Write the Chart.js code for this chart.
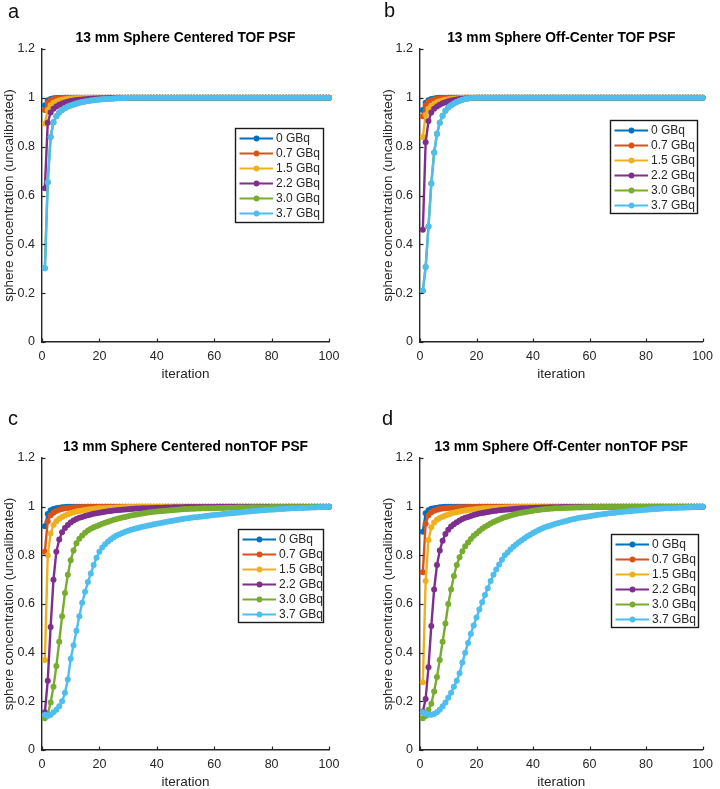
<!DOCTYPE html>
<html><head><meta charset="utf-8">
<script src="https://cdn.jsdelivr.net/npm/chart.js@4/dist/chart.umd.min.js"></script>
<style>
html,body{margin:0;padding:0;background:#fff;}
body{width:720px;height:789px;position:relative;overflow:hidden;font-family:"Liberation Sans",Arial,sans-serif;}
canvas{position:absolute;display:block;}
.lbl{position:absolute;font-size:20px;line-height:1;color:#111;font-family:"Liberation Sans",Arial,sans-serif;}
</style></head><body>
<canvas id="cA" width="360" height="390" style="left:0;top:0"></canvas>
<canvas id="cB" width="360" height="390" style="left:360px;top:0"></canvas>
<canvas id="cC" width="360" height="399" style="left:0;top:390px"></canvas>
<canvas id="cD" width="360" height="399" style="left:360px;top:390px"></canvas>
<div class="lbl" style="left:8px;top:1px">a</div>
<div class="lbl" style="left:384px;top:0px">b</div>
<div class="lbl" style="left:8px;top:408px">c</div>
<div class="lbl" style="left:382px;top:408px">d</div>
<script>
// ---------- categories / labels ----------
const seriesLabels = ['0 GBq','0.7 GBq','1.5 GBq','2.2 GBq','3.0 GBq','3.7 GBq'];
const iterations = Array.from({length:100},(_,i)=>i+1);
const xTickValues = [0,20,40,60,80,100];
const xTickLabels = ['0','20','40','60','80','100'];
const yTickValues = [0,0.2,0.4,0.6,0.8,1,1.2];
const yTickLabels = ['0','0.2','0.4','0.6','0.8','1','1.2'];
const panelTitles = ['13 mm Sphere Centered TOF PSF','13 mm Sphere Off-Center TOF PSF','13 mm Sphere Centered nonTOF PSF','13 mm Sphere Off-Center nonTOF PSF'];

// ---------- panel a: Centered TOF ----------
const a_0 = [0.97,0.99,0.995,0.998,0.999,1,1,1,1,1,
1,1,1,1,1,1,1,1,1,1, 1,1,1,1,1,1,1,1,1,1, 1,1,1,1,1,1,1,1,1,1, 1,1,1,1,1,1,1,1,1,1,
1,1,1,1,1,1,1,1,1,1, 1,1,1,1,1,1,1,1,1,1, 1,1,1,1,1,1,1,1,1,1, 1,1,1,1,1,1,1,1,1,1, 1,1,1,1,1,1,1,1,1,1];
const a_07 = [0.95,0.98,0.99,0.994,0.996,0.998,0.999,1,1,1,
1,1,1,1,1,1,1,1,1,1, 1,1,1,1,1,1,1,1,1,1, 1,1,1,1,1,1,1,1,1,1, 1,1,1,1,1,1,1,1,1,1,
1,1,1,1,1,1,1,1,1,1, 1,1,1,1,1,1,1,1,1,1, 1,1,1,1,1,1,1,1,1,1, 1,1,1,1,1,1,1,1,1,1, 1,1,1,1,1,1,1,1,1,1];
const a_15 = [0.895,0.95,0.97,0.98,0.985,0.989,0.992,0.994,0.996,0.997,
0.998,0.998,0.999,0.999,1,1,1,1,1,1,
1,1,1,1,1,1,1,1,1,1, 1,1,1,1,1,1,1,1,1,1, 1,1,1,1,1,1,1,1,1,1, 1,1,1,1,1,1,1,1,1,1,
1,1,1,1,1,1,1,1,1,1, 1,1,1,1,1,1,1,1,1,1, 1,1,1,1,1,1,1,1,1,1, 1,1,1,1,1,1,1,1,1,1];
const a_22 = [0.63,0.898,0.94,0.955,0.965,0.972,0.977,0.981,0.984,0.987,
0.989,0.991,0.992,0.993,0.994,0.995,0.996,0.997,0.997,0.998,
0.998,0.998,0.999,0.999,0.999,1,1,1,1,1,
1,1,1,1,1,1,1,1,1,1, 1,1,1,1,1,1,1,1,1,1, 1,1,1,1,1,1,1,1,1,1,
1,1,1,1,1,1,1,1,1,1, 1,1,1,1,1,1,1,1,1,1, 1,1,1,1,1,1,1,1,1,1, 1,1,1,1,1,1,1,1,1,1];
const a_30 = [0.302,0.654,0.84,0.9,0.925,0.94,0.95,0.958,0.964,0.969,
0.973,0.977,0.98,0.983,0.985,0.987,0.989,0.99,0.992,0.993,
0.994,0.995,0.996,0.996,0.997,0.998,0.998,0.999,0.999,1,
1,1,1,1,1,1,1,1,1,1, 1,1,1,1,1,1,1,1,1,1, 1,1,1,1,1,1,1,1,1,1,
1,1,1,1,1,1,1,1,1,1, 1,1,1,1,1,1,1,1,1,1, 1,1,1,1,1,1,1,1,1,1, 1,1,1,1,1,1,1,1,1,1];
const a_37 = [0.302,0.654,0.84,0.9,0.925,0.94,0.95,0.958,0.964,0.969,
0.973,0.977,0.98,0.983,0.985,0.987,0.989,0.99,0.992,0.993,
0.994,0.995,0.996,0.996,0.997,0.998,0.998,0.999,0.999,1,
1,1,1,1,1,1,1,1,1,1, 1,1,1,1,1,1,1,1,1,1, 1,1,1,1,1,1,1,1,1,1,
1,1,1,1,1,1,1,1,1,1, 1,1,1,1,1,1,1,1,1,1, 1,1,1,1,1,1,1,1,1,1, 1,1,1,1,1,1,1,1,1,1];

// ---------- panel b: Off-Center TOF ----------
const b_0 = [0.95,0.98,0.99,0.995,0.997,0.999,1,1,1,1,
1,1,1,1,1,1,1,1,1,1, 1,1,1,1,1,1,1,1,1,1, 1,1,1,1,1,1,1,1,1,1, 1,1,1,1,1,1,1,1,1,1,
1,1,1,1,1,1,1,1,1,1, 1,1,1,1,1,1,1,1,1,1, 1,1,1,1,1,1,1,1,1,1, 1,1,1,1,1,1,1,1,1,1, 1,1,1,1,1,1,1,1,1,1];
const b_07 = [0.925,0.97,0.983,0.989,0.993,0.995,0.997,0.998,0.999,1,
1,1,1,1,1,1,1,1,1,1, 1,1,1,1,1,1,1,1,1,1, 1,1,1,1,1,1,1,1,1,1, 1,1,1,1,1,1,1,1,1,1,
1,1,1,1,1,1,1,1,1,1, 1,1,1,1,1,1,1,1,1,1, 1,1,1,1,1,1,1,1,1,1, 1,1,1,1,1,1,1,1,1,1, 1,1,1,1,1,1,1,1,1,1];
const b_15 = [0.84,0.93,0.955,0.968,0.976,0.982,0.986,0.989,0.992,0.994,
0.995,0.996,0.997,0.998,0.999,1,1,1,1,1,
1,1,1,1,1,1,1,1,1,1, 1,1,1,1,1,1,1,1,1,1, 1,1,1,1,1,1,1,1,1,1, 1,1,1,1,1,1,1,1,1,1,
1,1,1,1,1,1,1,1,1,1, 1,1,1,1,1,1,1,1,1,1, 1,1,1,1,1,1,1,1,1,1, 1,1,1,1,1,1,1,1,1,1];
const b_22 = [0.46,0.818,0.905,0.94,0.955,0.965,0.972,0.978,0.982,0.986,
0.989,0.991,0.993,0.995,0.996,0.997,0.998,0.999,0.999,1,
1,1,1,1,1,1,1,1,1,1, 1,1,1,1,1,1,1,1,1,1, 1,1,1,1,1,1,1,1,1,1, 1,1,1,1,1,1,1,1,1,1,
1,1,1,1,1,1,1,1,1,1, 1,1,1,1,1,1,1,1,1,1, 1,1,1,1,1,1,1,1,1,1, 1,1,1,1,1,1,1,1,1,1];
const b_30 = [0.21,0.307,0.473,0.649,0.776,0.852,0.898,0.927,0.947,0.96,
0.97,0.977,0.983,0.988,0.992,0.995,0.997,0.999,1,1,
1,1,1,1,1,1,1,1,1,1, 1,1,1,1,1,1,1,1,1,1, 1,1,1,1,1,1,1,1,1,1, 1,1,1,1,1,1,1,1,1,1,
1,1,1,1,1,1,1,1,1,1, 1,1,1,1,1,1,1,1,1,1, 1,1,1,1,1,1,1,1,1,1, 1,1,1,1,1,1,1,1,1,1];
const b_37 = [0.21,0.307,0.473,0.649,0.776,0.852,0.898,0.927,0.947,0.96,
0.97,0.977,0.983,0.988,0.992,0.995,0.997,0.999,1,1,
1,1,1,1,1,1,1,1,1,1, 1,1,1,1,1,1,1,1,1,1, 1,1,1,1,1,1,1,1,1,1, 1,1,1,1,1,1,1,1,1,1,
1,1,1,1,1,1,1,1,1,1, 1,1,1,1,1,1,1,1,1,1, 1,1,1,1,1,1,1,1,1,1, 1,1,1,1,1,1,1,1,1,1];

// ---------- panel c: Centered nonTOF ----------
const c_0 = [0.92,0.97,0.985,0.99,0.994,0.996,0.998,0.999,1,1,
1,1,1,1,1,1,1,1,1,1, 1,1,1,1,1,1,1,1,1,1, 1,1,1,1,1,1,1,1,1,1, 1,1,1,1,1,1,1,1,1,1,
1,1,1,1,1,1,1,1,1,1, 1,1,1,1,1,1,1,1,1,1, 1,1,1,1,1,1,1,1,1,1, 1,1,1,1,1,1,1,1,1,1, 1,1,1,1,1,1,1,1,1,1];
const c_07 = [0.815,0.94,0.965,0.975,0.982,0.987,0.99,0.993,0.995,0.996,
0.997,0.998,0.998,0.999,0.999,1,1,1,1,1,
1,1,1,1,1,1,1,1,1,1, 1,1,1,1,1,1,1,1,1,1, 1,1,1,1,1,1,1,1,1,1, 1,1,1,1,1,1,1,1,1,1,
1,1,1,1,1,1,1,1,1,1, 1,1,1,1,1,1,1,1,1,1, 1,1,1,1,1,1,1,1,1,1, 1,1,1,1,1,1,1,1,1,1];
const c_15 = [0.37,0.8,0.89,0.925,0.94,0.95,0.958,0.964,0.969,0.973,
0.977,0.98,0.982,0.984,0.986,0.988,0.989,0.99,0.992,0.993,
0.994,0.994,0.995,0.996,0.996,0.997,0.997,0.998,0.998,0.999,
0.999,0.999,0.999,1,1,1,1,1,1,1,
1,1,1,1,1,1,1,1,1,1, 1,1,1,1,1,1,1,1,1,1, 1,1,1,1,1,1,1,1,1,1,
1,1,1,1,1,1,1,1,1,1, 1,1,1,1,1,1,1,1,1,1, 1,1,1,1,1,1,1,1,1,1];
const c_22 = [0.155,0.285,0.505,0.7,0.815,0.865,0.895,0.912,0.925,0.935,
0.943,0.949,0.954,0.958,0.962,0.965,0.968,0.971,0.973,0.975,
0.977,0.979,0.981,0.982,0.984,0.985,0.986,0.987,0.988,0.989,
0.99,0.991,0.992,0.992,0.993,0.994,0.994,0.995,0.995,0.996,
0.996,0.996,0.997,0.997,0.997,0.998,0.998,0.998,0.998,0.999,
0.999,0.999,0.999,0.999,0.999,0.999,0.999,0.999,0.999,0.999,
1,1,1,1,1,1,1,1,1,1, 1,1,1,1,1,1,1,1,1,1, 1,1,1,1,1,1,1,1,1,1, 1,1,1,1,1,1,1,1,1,1];
const c_30 = [0.13,0.145,0.195,0.26,0.345,0.445,0.55,0.645,0.72,0.78,
0.82,0.85,0.868,0.882,0.893,0.902,0.909,0.915,0.92,0.925,
0.93,0.934,0.938,0.942,0.946,0.949,0.952,0.955,0.958,0.961,
0.964,0.966,0.968,0.97,0.972,0.974,0.976,0.977,0.979,0.98,
0.981,0.982,0.983,0.984,0.985,0.986,0.987,0.988,0.989,0.99,
0.99,0.991,0.991,0.992,0.992,0.993,0.993,0.994,0.994,0.994,
0.995,0.995,0.995,0.996,0.996,0.996,0.996,0.997,0.997,0.997,
0.997,0.997,0.998,0.998,0.998,0.998,0.998,0.998,0.998,0.999,
0.999,0.999,0.999,0.999,0.999,0.999,0.999,0.999,0.999,0.999,
0.999,0.999,0.999,0.999,0.999,0.999,0.999,0.999,0.999,1];
const c_37 = [0.145,0.14,0.145,0.155,0.165,0.18,0.2,0.235,0.29,0.375,
0.43,0.49,0.55,0.605,0.65,0.69,0.725,0.76,0.79,0.815,
0.832,0.846,0.857,0.866,0.874,0.881,0.887,0.892,0.897,0.901,
0.905,0.908,0.911,0.914,0.917,0.92,0.923,0.925,0.928,0.93,
0.932,0.934,0.937,0.939,0.941,0.943,0.945,0.947,0.949,0.951,
0.952,0.954,0.956,0.957,0.959,0.96,0.962,0.963,0.965,0.966,
0.967,0.968,0.97,0.971,0.972,0.973,0.974,0.975,0.976,0.978,
0.979,0.98,0.981,0.982,0.983,0.984,0.985,0.986,0.987,0.987,
0.988,0.989,0.99,0.99,0.991,0.992,0.993,0.993,0.994,0.995,
0.995,0.996,0.996,0.997,0.997,0.998,0.998,0.999,0.999,1];

// ---------- panel d: Off-Center nonTOF ----------
const d_0 = [0.897,0.973,0.985,0.991,0.994,0.996,0.998,0.999,1,1,
1,1,1,1,1,1,1,1,1,1, 1,1,1,1,1,1,1,1,1,1, 1,1,1,1,1,1,1,1,1,1, 1,1,1,1,1,1,1,1,1,1,
1,1,1,1,1,1,1,1,1,1, 1,1,1,1,1,1,1,1,1,1, 1,1,1,1,1,1,1,1,1,1, 1,1,1,1,1,1,1,1,1,1, 1,1,1,1,1,1,1,1,1,1];
const d_07 = [0.73,0.93,0.965,0.977,0.983,0.987,0.99,0.992,0.994,0.995,
0.996,0.997,0.997,0.998,0.998,0.998,0.999,0.999,0.999,0.999,
1,1,1,1,1,1,1,1,1,1, 1,1,1,1,1,1,1,1,1,1, 1,1,1,1,1,1,1,1,1,1, 1,1,1,1,1,1,1,1,1,1,
1,1,1,1,1,1,1,1,1,1, 1,1,1,1,1,1,1,1,1,1, 1,1,1,1,1,1,1,1,1,1, 1,1,1,1,1,1,1,1,1,1];
const d_15 = [0.278,0.695,0.863,0.915,0.935,0.946,0.953,0.959,0.964,0.968,
0.972,0.975,0.978,0.98,0.982,0.984,0.986,0.987,0.988,0.99,
0.991,0.992,0.993,0.994,0.994,0.995,0.995,0.996,0.996,0.997,
0.997,0.998,0.998,0.998,0.999,0.999,0.999,0.999,1,1,
1,1,1,1,1,1,1,1,1,1, 1,1,1,1,1,1,1,1,1,1, 1,1,1,1,1,1,1,1,1,1,
1,1,1,1,1,1,1,1,1,1, 1,1,1,1,1,1,1,1,1,1, 1,1,1,1,1,1,1,1,1,1];
const d_22 = [0.157,0.21,0.34,0.51,0.66,0.76,0.82,0.86,0.888,0.905,
0.918,0.928,0.936,0.943,0.949,0.954,0.958,0.962,0.966,0.969,
0.972,0.974,0.976,0.978,0.98,0.982,0.983,0.985,0.986,0.987,
0.988,0.989,0.99,0.991,0.992,0.993,0.993,0.994,0.995,0.995,
0.996,0.996,0.997,0.997,0.997,0.998,0.998,0.998,0.998,0.999,
0.999,0.999,0.999,0.999,0.999,0.999,0.999,0.999,0.999,0.999,
1,1,1,1,1,1,1,1,1,1, 1,1,1,1,1,1,1,1,1,1, 1,1,1,1,1,1,1,1,1,1, 1,1,1,1,1,1,1,1,1,1];
const d_30 = [0.13,0.14,0.165,0.19,0.24,0.3,0.37,0.445,0.52,0.6,
0.66,0.715,0.76,0.792,0.817,0.837,0.853,0.867,0.88,0.89,
0.9,0.909,0.917,0.924,0.931,0.937,0.942,0.947,0.952,0.956,
0.96,0.964,0.967,0.97,0.973,0.975,0.977,0.979,0.981,0.983,
0.985,0.986,0.988,0.989,0.99,0.991,0.992,0.993,0.994,0.994,
0.995,0.995,0.996,0.996,0.997,0.997,0.997,0.998,0.998,0.998,
0.998,0.999,0.999,0.999,0.999,0.999,0.999,0.999,0.999,0.999,
1,1,1,1,1,1,1,1,1,1, 1,1,1,1,1,1,1,1,1,1, 1,1,1,1,1,1,1,1,1,1];
const d_37 = [0.155,0.15,0.145,0.145,0.148,0.155,0.165,0.18,0.195,0.215,
0.235,0.26,0.285,0.315,0.36,0.4,0.44,0.478,0.512,0.545,
0.577,0.607,0.637,0.665,0.695,0.72,0.742,0.762,0.782,0.8,
0.812,0.824,0.835,0.845,0.854,0.862,0.87,0.878,0.885,0.892,
0.898,0.904,0.909,0.914,0.918,0.922,0.926,0.93,0.933,0.936,
0.939,0.942,0.945,0.948,0.95,0.953,0.955,0.957,0.959,0.961,
0.963,0.965,0.967,0.968,0.97,0.971,0.973,0.974,0.975,0.977,
0.978,0.979,0.98,0.981,0.982,0.983,0.984,0.985,0.986,0.987,
0.988,0.989,0.99,0.99,0.991,0.992,0.993,0.993,0.994,0.995,
0.995,0.996,0.996,0.997,0.997,0.998,0.998,0.999,0.999,1];

// ---------- styling ----------
const colors = ['#0072BD','#D95319','#EDB120','#7E2F8E','#77AC30','#4DBEEE'];
const FONT = '"Liberation Sans", Arial, Helvetica, sans-serif';
const AX = '#262626';

const decorPlugin = {
  id: 'decor',
  afterDraw(chart, args, o) {
    const ctx = chart.ctx, a = chart.chartArea;
    const xs = chart.scales.x, ys = chart.scales.y;
    ctx.save();
    // inward tick marks (MATLAB style)
    ctx.strokeStyle = AX; ctx.lineWidth = 1.2;
    ys.ticks.forEach(t => { const y = Math.round(ys.getPixelForValue(t.value)) + 0.5;
      ctx.beginPath(); ctx.moveTo(a.left, y); ctx.lineTo(a.left + 3.5, y); ctx.stroke(); });
    xs.ticks.forEach(t => { const x = Math.round(xs.getPixelForValue(t.value)) + 0.5;
      ctx.beginPath(); ctx.moveTo(x, a.bottom); ctx.lineTo(x, a.bottom - 3.5); ctx.stroke(); });
    // title
    ctx.fillStyle = '#000'; ctx.font = 'bold 13.8px ' + FONT;
    ctx.textAlign = 'center'; ctx.textBaseline = 'middle';
    ctx.fillText(o.title, (a.left + a.right) / 2, a.top - 10.5);
    // legend box
    const L = o.legend;
    ctx.fillStyle = '#fff'; ctx.fillRect(L.x, L.y, L.w, L.h);
    ctx.strokeStyle = '#1a1a1a'; ctx.lineWidth = 1.4; ctx.strokeRect(L.x + 0.5, L.y + 0.5, L.w, L.h);
    chart.data.datasets.forEach((ds, i) => {
      const cy = L.y + 10.5 + i * 15;
      ctx.strokeStyle = ds.borderColor; ctx.lineWidth = 2.2;
      ctx.beginPath(); ctx.moveTo(L.x + 4.5, cy); ctx.lineTo(L.x + 38, cy); ctx.stroke();
      ctx.fillStyle = ds.borderColor; ctx.beginPath(); ctx.arc(L.x + 21.5, cy, 2.9, 0, Math.PI * 2); ctx.fill();
      ctx.fillStyle = AX; ctx.font = '12px ' + FONT; ctx.textAlign = 'left'; ctx.textBaseline = 'middle';
      ctx.fillText(ds.label, L.x + 41, cy + 0.5);
    });
    ctx.restore();
  }
};

function makeChart(id, title, seriesList, g) {
  const datasets = seriesList.map((vals, i) => ({
    label: seriesLabels[i],
    data: iterations.map((it, k) => ({x: it, y: vals[k]})),
    borderColor: colors[i], backgroundColor: colors[i],
    pointBackgroundColor: colors[i], pointBorderWidth: 0,
    pointRadius: 3, borderWidth: 2.4, tension: 0, clip: false,
    order: seriesList.length - i
  }));
  return new Chart(document.getElementById(id), {
    type: 'line',
    data: { datasets },
    plugins: [decorPlugin],
    options: {
      responsive: false, animation: false, devicePixelRatio: 1,
      layout: { padding: { left: 0, right: g.right, top: g.top, bottom: 0 } },
      plugins: { legend: { display: false }, tooltip: { enabled: false },
                 decor: { title, legend: g.legend } },
      scales: {
        x: {
          type: 'linear', min: 0, max: 100,
          afterBuildTicks: s => { s.ticks = xTickValues.map(v => ({value: v})); },
          afterFit: s => { s.height = g.hx; },
          grid: { display: true, drawOnChartArea: false, drawTicks: false },
          border: { display: true, color: AX, width: 1.4 },
          ticks: { padding: 7, color: AX, font: { size: 12.5, family: FONT }, maxRotation: 0, autoSkip: false,
                   callback: (v, i) => xTickLabels[i] },
          title: { display: true, text: 'iteration', color: AX, font: { size: 13.5, family: FONT, lineHeight: 1 },
                   padding: { top: 0, bottom: g.xtp } }
        },
        y: {
          type: 'linear', min: 0, max: 1.2,
          afterBuildTicks: s => { s.ticks = yTickValues.map(v => ({value: v})); },
          afterFit: s => { s.width = g.wy; },
          grid: { display: true, drawOnChartArea: false, drawTicks: false },
          border: { display: true, color: AX, width: 1.4 },
          ticks: { padding: 7, color: AX, font: { size: 12.5, family: FONT }, autoSkip: false,
                   callback: (v, i) => yTickLabels[i] },
          title: { display: true, text: 'sphere concentration (uncalibrated)', color: AX,
                   font: { size: 13.5, family: FONT, lineHeight: 1 }, padding: { top: g.ytp, bottom: 0 } }
        }
      }
    }
  });
}

makeChart('cA', panelTitles[0], [a_0, a_07, a_15, a_22, a_30, a_37],
  { right: 31, top: 49, wy: 42, hx: 48, xtp: 8.5, ytp: 3, legend: {x: 235, y: 128, w: 88, h: 94} });
makeChart('cB', panelTitles[1], [b_0, b_07, b_15, b_22, b_30, b_37],
  { right: 12, top: 49, wy: 60, hx: 48, xtp: 8.5, ytp: 21.5, legend: {x: 250, y: 120, w: 87, h: 93} });
makeChart('cC', panelTitles[2], [c_0, c_07, c_15, c_22, c_30, c_37],
  { right: 31, top: 68, wy: 42, hx: 39, xtp: 0, ytp: 3, legend: {x: 238, y: 139, w: 85, h: 93} });
makeChart('cD', panelTitles[3], [d_0, d_07, d_15, d_22, d_30, d_37],
  { right: 12, top: 68, wy: 60, hx: 39, xtp: 0, ytp: 21.5, legend: {x: 251, y: 144, w: 87, h: 93} });
</script>
</body></html>
